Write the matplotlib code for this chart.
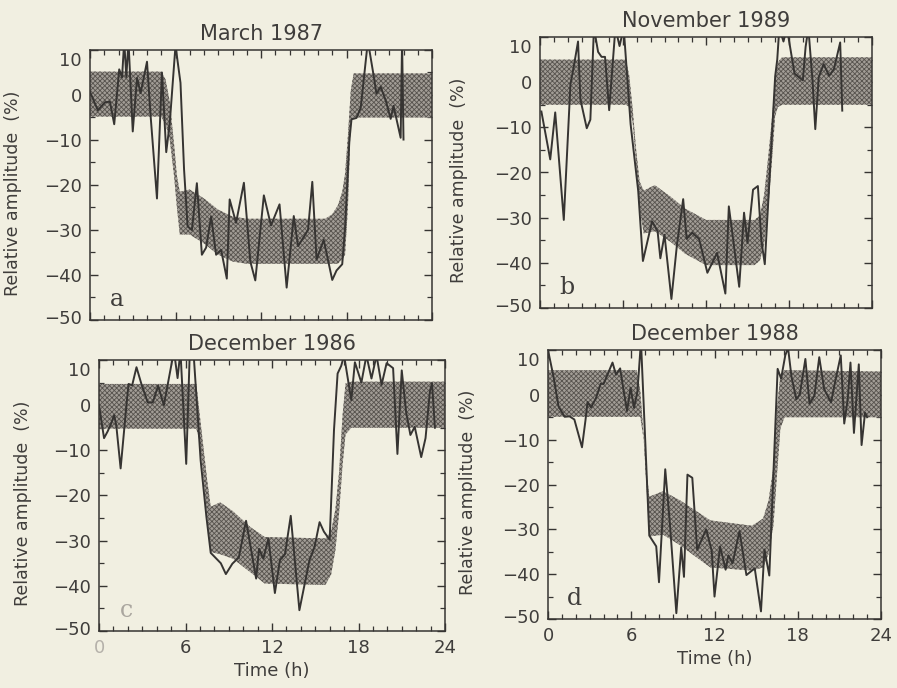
import matplotlib
matplotlib.use("Agg")
import matplotlib.pyplot as plt
import matplotlib.transforms as mtransforms
from matplotlib.ticker import MultipleLocator

# ---------------- data ----------------
titles = ["March 1987", "November 1989", "December 1986", "December 1988"]
letters = ["a", "b", "c", "d"]
xticks = [0, 6, 12, 18, 24]
yticks = [10, 0, -10, -20, -30, -40, -50]

# panel a (March 1987)
a_t = [0.0, 0.55, 1.05, 1.4, 1.7, 2.05, 2.25, 2.4, 2.55, 2.7, 3.0, 3.3, 3.55, 4.0, 4.25,
       4.7, 5.05, 5.35, 5.6, 6.0, 6.35, 6.6, 6.85, 7.15, 7.5, 7.85, 8.15, 8.5, 8.85, 9.2,
       9.6, 9.8, 10.25, 10.8, 11.25, 11.6, 12.2, 12.7, 13.3, 13.8, 14.3, 14.6, 15.3, 15.6,
       15.9, 16.4, 17.0, 17.3, 17.7, 17.9, 18.2, 18.35, 18.7, 19.0, 19.5, 19.9, 20.1, 20.4,
       20.75, 21.1, 21.3, 21.8, 21.9, 22.0]
a_v = [0.7, -3.4, -1.6, -1.5, -6.5, 5.7, 3.9, 12, 4, 12, -8.1, 3.8, 0.4, 7.4, -4.5,
       -23.0, 5.0, -12.7, -6.1, 11, 2.7, -16.5, -29.2, -30.0, -19.6, -35.5, -33.9, -27.0, -35.5, -34.4,
       -40.8, -23.2, -28.4, -19.5, -37.0, -41.2, -22.3, -29.0, -24.3, -42.8, -26.9, -33.6, -30.0, -19.3,
       -36.6, -32.2, -41.1, -39.0, -37.6, -29.5, -10.2, -5.4, -5.1, -2.8, 12, 4.4, 0.3, 1.8,
       -1.2, -5.3, -2.4, -9.5, 12, -9.9]
a_bt = [0, 5.0, 5.3, 5.6, 5.9, 6.1, 6.3, 7.0, 8.0, 9.0, 10.0, 11.0, 16.0, 16.5, 17.0, 17.4,
        17.7, 17.9, 18.1, 18.3, 18.5, 24]
a_bu = [5.2, 5.2, 3.5, -1.5, -11, -18, -21.5, -21, -23, -25.5, -27, -27.5, -27.5, -27.5, -26.5,
        -24.5, -21.5, -17.5, -9, 1, 4.8, 4.8]
a_bl = [-4.8, -4.8, -6.5, -10, -18, -25, -31, -31, -33, -35.5, -37, -37.5, -37.5, -37.5, -37.5,
        -37.5, -36.5, -35.5, -25, -5.8, -5, -5]

# panel b (November 1989)
b_t = [0.1, 0.74, 1.1, 1.72, 2.2, 2.45, 2.75, 2.92, 3.38, 3.64, 3.9, 4.2, 4.45, 4.7, 5.0,
       5.45, 5.75, 6.05, 6.55, 7.1, 7.44, 8.1, 8.5, 8.7, 9.0, 9.5, 9.9, 10.35, 10.6, 11.0,
       11.5, 12.1, 12.8, 13.4, 13.65, 14.0, 14.4, 14.75, 15.0, 15.4, 15.75, 16.0, 16.25, 17.0,
       17.15, 17.3, 17.6, 17.85, 18.4, 19.0, 19.2, 19.4, 19.7, 19.9, 20.15, 20.5, 20.9, 21.25,
       21.7, 21.85]
b_v = [-6.5, -17.1, -6.7, -30.5, -0.5, 3.6, 9.0, -3.8, -10.2, -8.3, 12, 6.7, 5.6, 5.6, -6.2,
       12, 8, 12, -9.3, -24.1, -39.6, -30.8, -33.0, -39.0, -33.8, -48.0, -36.0, -25.9, -34.7, -33.3,
       -34.7, -42.2, -37.8, -46.8, -27.5, -35.7, -45.3, -28.9, -35.6, -23.8, -23.0, -35.0, -40.3, 1.3,
       5.0, 12, 9, 12, 1.9, 0.4, 7.8, 12, 0.3, -10.4, 1.1, 4.0, 1.4, 2.9,
       8.8, -6.3]
b_bt = [0, 6.2, 6.45, 6.7, 6.95, 7.2, 7.5, 8.3, 9.5, 10.5, 12.0, 15.5, 15.9, 16.2, 16.5,
        16.8, 17.0, 17.2, 17.5, 24]
b_bu = [5, 5, 1.5, -6, -15, -22, -24, -22.8, -25.5, -28, -30.5, -30.5, -29.5, -25, -16.5,
        -7, 1, 4.5, 5.5, 5.5]
b_bl = [-5, -5, -5.5, -9, -18, -28, -33.5, -33, -35.5, -38, -40.5, -40.5, -39.5, -36, -28,
        -16, -7.5, -5.5, -5, -5]

# panel c (December 1986)
c_t = [0.0, 0.35, 0.6, 0.85, 1.05, 1.2, 1.5, 1.9, 2.05, 2.3, 2.6, 2.95, 3.38, 3.73, 4.1,
       4.5, 4.75, 5.2, 5.45, 5.65, 6.05, 6.3, 6.55, 7.05, 7.45, 7.75, 8.45, 8.8, 9.25, 9.7,
       10.2, 10.9, 11.1, 11.4, 11.75, 12.2, 12.55, 12.9, 13.3, 13.9, 14.6, 14.95, 15.3, 15.6,
       16.0, 16.3, 16.55, 16.8, 17.0, 17.5, 17.75, 18.2, 18.55, 18.9, 19.25, 19.6, 19.95, 20.4,
       20.7, 21.0, 21.3, 21.6, 21.9, 22.35, 22.65, 22.95, 23.1, 23.3]
c_v = [0.0, -7.3, -5.8, -4.0, -2.2, -4.5, -14.0, -0.1, 4.7, 4.4, 8.4, 4.6, 0.6, 0.6, 4.3,
       0.0, 4.3, 12, 6, 12, -13.0, 12, 12, -12.2, -24.7, -32.7, -35.0, -37.4, -35.1, -33.7,
       -25.6, -38.4, -31.8, -34.0, -29.5, -41.6, -34.3, -33.0, -24.5, -45.4, -34.3, -31.4, -25.9, -28.0,
       -29.8, -5.5, 7.0, 8.7, 11, 1.1, 9.5, 5.0, 11, 5.9, 11, 4.5, 9.3, 8.2,
       -10.8, 7.7, -1.5, -6.6, -4.8, -11.5, -7.3, 3.0, 4.9, -5.0]
c_bt = [0, 6.75, 7.0, 7.25, 7.5, 7.75, 8.4, 9.3, 10.5, 11.5, 15.7, 16.1, 16.4, 16.65, 16.9,
        17.1, 17.5, 24]
c_bu = [4.7, 4.7, -2.5, -9.5, -16.5, -22.5, -21.5, -23.5, -27, -29.2, -29.5, -28, -23, -15, -2,
        4.8, 5.2, 5.2]
c_bl = [-5.2, -5.2, -8.3, -16.3, -24.5, -32.5, -33, -34, -37, -39.5, -39.8, -37.5, -32, -24, -13,
        -6.5, -5, -5]

# panel d (December 1988)
d_t = [0.0, 0.4, 0.76, 1.2, 1.55, 1.9, 2.45, 2.7, 2.85, 3.1, 3.45, 3.8, 4.0, 4.3, 4.65,
       4.9, 5.2, 5.45, 5.7, 5.95, 6.2, 6.45, 6.7, 7.3, 7.8, 8.0, 8.45, 8.8, 9.25, 9.6,
       9.8, 10.05, 10.4, 10.75, 11.4, 11.8, 12.0, 12.4, 12.8, 13.0, 13.3, 13.8, 14.3, 14.9,
       15.35, 15.6, 15.95, 16.55, 16.8, 17.1, 17.3, 17.55, 17.9, 18.15, 18.55, 18.85, 19.2, 19.55,
       19.9, 20.4, 20.7, 21.1, 21.35, 21.6, 21.8, 22.05, 22.4, 22.6, 22.85, 23.0]
d_v = [10, 4, -2.6, -4.9, -4.8, -5.5, -11.7, -5.7, -1.6, -2.8, -0.8, 2.5, 2.4, 4.6, 7.2,
       4.5, 5.9, 0.9, -3.6, 1.6, -2.9, 0.8, 12, -31.4, -33.8, -41.8, -16.6, -29.3, -48.7, -34.0,
       -40.6, -17.8, -18.5, -34.6, -30.0, -34.8, -45.0, -33.8, -39.0, -35.8, -37.6, -30.4, -40.2, -38.7,
       -48.3, -34.5, -40.3, 5.8, 3.6, 8.8, 10.5, 4.0, -1.0, 0.1, 8.0, -2.0, -0.2, 8.4,
       1.3, -1.7, 3.0, 8.8, -6.4, -1.0, 7.2, -8.5, 6.8, -11.2, -4.0, -5.0]
d_bt = [0, 6.4, 6.65, 6.9, 7.1, 7.3, 8.3, 9.5, 11.7, 14.7, 15.5, 15.9, 16.25, 16.5, 16.75,
        17.05, 24]
d_bu = [5.5, 5.5, 1, -9.4, -17, -22.7, -21.5, -23.5, -28, -29.2, -27.6, -23.5, -16, -3, 4.5,
        5.5, 5.2]
d_bl = [-4.9, -4.9, -4.9, -10, -20.5, -31.6, -31.2, -33.5, -38.5, -39.2, -38.5, -35.5, -29, -18,
        -7.5, -5, -5]

panels = [
    (a_t, a_v, a_bt, a_bu, a_bl),
    (b_t, b_v, b_bt, b_bu, b_bl),
    (c_t, c_v, c_bt, c_bu, c_bl),
    (d_t, d_v, d_bt, d_bu, d_bl),
]

# ---------------- style ----------------
W, H = 897, 688
bg = "#f1efe1"
ink = "#363432"
txt = "#3f3d3b"
plt.rcParams["hatch.color"] = "#57534e"
plt.rcParams["hatch.linewidth"] = 0.6
plt.rcParams["font.family"] = ["DejaVu Sans"]

fig = plt.figure(figsize=(W / 100, H / 100), dpi=100, facecolor=bg)

# axes rectangles in pixels: left, right, top, bottom
rects = [(90, 432, 50, 320), (540, 872, 37, 308), (99, 445, 360, 631), (548, 881, 350, 619)]
ylabel_x = [22, 468, 32, 477]

for i, ((t, v, bt, bu, bl), (l, r, tp, bt_px)) in enumerate(zip(panels, rects)):
    ax = fig.add_axes([l / W, 1 - bt_px / H, (r - l) / W, (bt_px - tp) / H])
    ax.set_facecolor(bg)
    ax.fill_between(bt, bl, bu, facecolor="#a29d96", edgecolor="none", hatch="xxxxxxx", zorder=2)
    ax.plot(t, v, color=ink, lw=1.4, zorder=3)
    ax.set_xlim(0, 24)
    ax.set_ylim(-50, 10)
    ax.set_xticks(xticks)
    ax.set_yticks(yticks)
    ax.xaxis.set_minor_locator(MultipleLocator(1))
    ax.yaxis.set_minor_locator(MultipleLocator(5))
    ax.tick_params(which="both", direction="in", top=True, right=True, color=ink,
                   labelcolor=txt, labelsize=13)
    ax.tick_params(which="major", length=6, width=1.0, pad=6)
    ax.tick_params(which="minor", length=3.5, width=0.9)
    for s in ax.spines.values():
        s.set_color(ink)
        s.set_linewidth(1.1)
    if i < 2:
        ax.set_xticklabels([])
    else:
        ax.set_xlabel("Time (h)", fontsize=13, color=txt, labelpad=3)
    ax.set_title(titles[i], fontsize=15, color=txt, pad=7)
    ax.set_ylabel("Relative amplitude  (%)", fontsize=12.5, color=txt)
    ax.yaxis.set_label_coords((ylabel_x[i] - l) / (r - l), 0.47)
    # shift end labels inward like the original
    labs = ax.get_yticklabels()
    labs[0].set_transform(labs[0].get_transform() +
                          mtransforms.ScaledTranslation(0, -0.09, fig.dpi_scale_trans))
    labs[-1].set_transform(labs[-1].get_transform() +
                           mtransforms.ScaledTranslation(0, 0.03, fig.dpi_scale_trans))
    if i == 2:
        xl = ax.get_xticklabels()
        xl[0].set_color("#b5b1aa")
    ax.text(0.08, 0.075, letters[i], transform=ax.transAxes, fontsize=17,
            family="DejaVu Serif", color="#aaa69f" if i == 2 else txt,
            ha="center", va="center")

fig.savefig("out.png", dpi=100, facecolor=bg)
